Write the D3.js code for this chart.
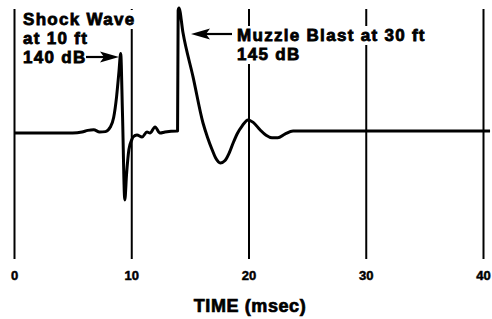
<!DOCTYPE html>
<html>
<head>
<meta charset="utf-8">
<script src="https://cdn.jsdelivr.net/npm/d3@7"></script>
<style>
  body { margin: 0; background: #fff; }
  svg { display: block; }
  .lbl { font-family: "Liberation Sans", Arial, sans-serif; font-weight: bold; fill: #000; }
</style>
</head>
<body>
<div id="chart"></div>
<script>
// 時間軸の目盛り
var timeTicks = [0, 10, 20, 30, 40];

// 波形 (msec, 相対圧力)
var waveTime = [0, 3, 5, 5.8, 6.3, 6.8, 7.3, 7.8, 8.2, 8.5, 8.75, 8.95, 9.1,
    9.25, 9.45, 9.6, 9.8, 10.05,
    10.15, 10.49, 10.92, 11.34, 11.6, 12.03, 12.45, 12.88, 13.9,
    13.95, 14.0, 14.07, 14.41, 15.27, 16.12, 16.5, 16.89, 17.2, 17.6, 18.0, 18.35, 18.68,
    19.05, 19.45, 19.96, 20.4, 20.98, 21.5, 22.0, 22.5, 23.1, 23.8, 40.6];
var wavePressure = [-0.016, -0.016, -0.016, -0.008, 0.005, 0.01, -0.008, -0.005, 0.03, 0.11, 0.28, 0.48, 0.63,
    0.15, -0.56, -0.35, -0.15, -0.07,
    -0.049, -0.033, -0.049, -0.008, -0.016, 0.033, -0.016, -0.008, 0,
    0, 0.98, 1.0, 0.80, 0.44, 0.065, -0.05, -0.15, -0.22, -0.26, -0.24, -0.18, -0.10,
    -0.02, 0.04, 0.09, 0.07, 0.01, -0.035, -0.055, -0.055, -0.025, 0, 0];

// 注釈
var shockLines = ["Shock Wave", "at 10 ft", "140 dB"];
var muzzleLines = ["Muzzle Blast at 30 ft", "145 dB"];
var axisTitle = "TIME (msec)";

var width = 492, height = 319;

var svg = d3.select("#chart").append("svg")
    .attr("width", width)
    .attr("height", height);

var x = d3.scaleLinear().domain([0, 40]).range([14, 483]);
var y = d3.scaleLinear().domain([-1, 1]).range([254, 8]);

// グリッド線と目盛りラベル
var axis = svg.append("g")
    .attr("transform", "translate(0,259)")
    .call(d3.axisBottom(x).tickValues(timeTicks).tickSize(-250).tickPadding(12).tickFormat(d3.format("d")));
axis.select(".domain").remove();
axis.selectAll(".tick line").attr("stroke", "#000").attr("stroke-width", 2);
axis.selectAll(".tick text")
    .attr("class", "lbl")
    .attr("font-size", 13)
    .attr("stroke", "#000").attr("stroke-width", 0.5);

// 軸タイトル
svg.append("text")
    .attr("class", "lbl")
    .attr("x", 250).attr("y", 312)
    .attr("text-anchor", "middle")
    .attr("font-size", 18)
    .attr("letter-spacing", 0.6)
    .attr("stroke", "#000").attr("stroke-width", 0.7)
    .text(axisTitle);

// 注釈テキスト (背景を白で抜く)
function addBlock(lines, x0, baselines) {
    var g = svg.append("g");
    lines.forEach(function(s, i) {
        var t = g.append("text")
            .attr("class", "lbl")
            .attr("x", x0).attr("y", baselines[i])
            .attr("font-size", 17)
            .attr("letter-spacing", 1.3)
            .attr("stroke", "#000").attr("stroke-width", 0.8)
            .text(s);
        var b = t.node().getBBox();
        g.insert("rect", "text")
            .attr("x", b.x - 2).attr("y", baselines[i] - 15)
            .attr("width", b.width + 4).attr("height", 19)
            .attr("fill", "#fff");
    });
}
addBlock(shockLines, 23, [25, 44, 63]);
addBlock(muzzleLines, 237, [41, 60]);

// 矢印
function arrow(x1, x2, yy) {
    var dir = x2 > x1 ? 1 : -1;
    svg.append("line")
        .attr("x1", x1).attr("y1", yy)
        .attr("x2", x2 - dir * 14).attr("y2", yy)
        .attr("stroke", "#000").attr("stroke-width", 2.2);
    svg.append("path")
        .attr("d", "M" + x2 + "," + yy + "L" + (x2 - dir * 19) + "," + (yy - 5.5) +
            "L" + (x2 - dir * 15) + "," + yy + "L" + (x2 - dir * 19) + "," + (yy + 5.5) + "Z")
        .attr("fill", "#000");
}
arrow(86, 119, 57);
arrow(232, 191, 34);

// 波形描画
var data = waveTime.map(function(t, i) { return { t: t, p: wavePressure[i] }; });
var line = d3.line()
    .x(function(d) { return x(d.t); })
    .y(function(d) { return y(d.p); })
    .curve(d3.curveMonotoneX);

svg.append("path")
    .datum(data)
    .attr("fill", "none")
    .attr("stroke", "#000")
    .attr("stroke-width", 3)
    .attr("stroke-linejoin", "round")
    .attr("d", line);
</script>
</body>
</html>
